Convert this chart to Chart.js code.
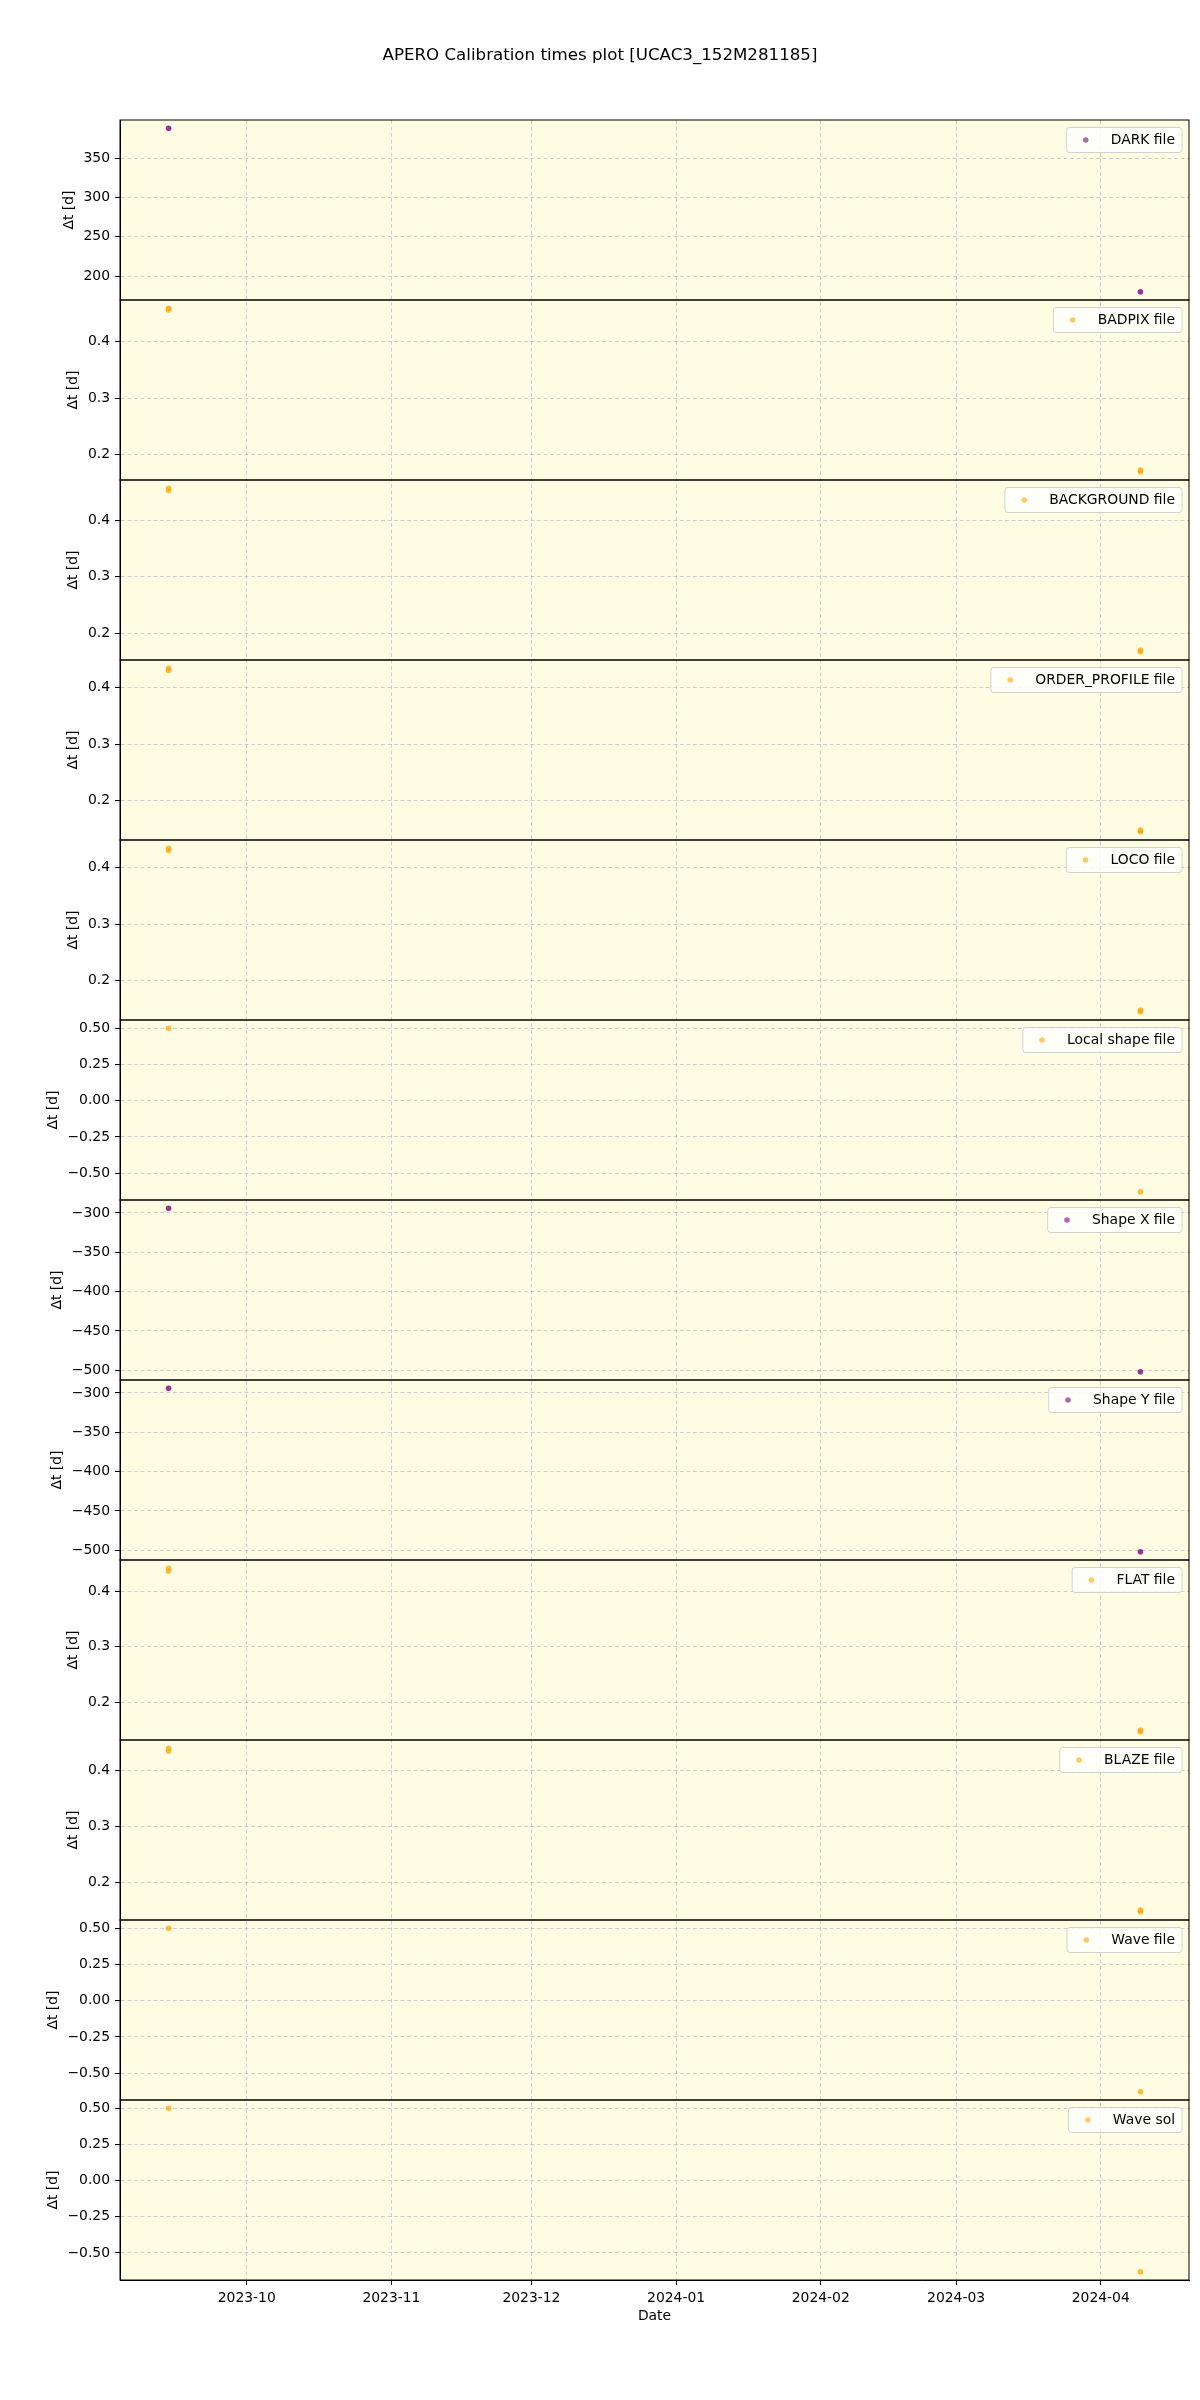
<!DOCTYPE html>
<html>
<head>
<meta charset="utf-8">
<title>APERO Calibration times plot</title>
<script src="https://cdn.jsdelivr.net/npm/chart.js@4.4.1/dist/chart.umd.min.js"></script>
<style>
  html, body { margin: 0; padding: 0; background: #fff; }
  #wrap { width: 1200px; height: 2400px; position: relative; }
</style>
</head>
<body>
<div id="wrap"><canvas id="calibChart"></canvas></div>
<script>
// Panels, top to bottom
const panelLabels = ['DARK file', 'BADPIX file', 'BACKGROUND file', 'ORDER_PROFILE file', 'LOCO file',
  'Local shape file', 'Shape X file', 'Shape Y file', 'FLAT file', 'BLAZE file', 'Wave file', 'Wave sol'];
const chartTitle = 'APERO Calibration times plot [UCAC3_152M281185]';

// observation times (UTC)
const pairTimes = ['2023-09-14T06:00:00Z', '2024-04-09T12:00:00Z'];
const quadTimes = ['2023-09-14T06:00:00Z', '2023-09-14T06:00:00Z', '2024-04-09T12:00:00Z', '2024-04-09T12:00:00Z'];

// Δt values [d]
const darkDt = [388, 180];
const badpixDt = [0.459, 0.456, 0.173, 0.170];
const backgroundDt = [0.457, 0.453, 0.170, 0.167];
const orderProfileDt = [0.435, 0.431, 0.147, 0.144];
const locoDt = [0.435, 0.431, 0.147, 0.144];
const localShapeDt = [0.5, -0.628];
const shapeXDt = [-294, -502];
const shapeYDt = [-294, -502];
const flatDt = [0.441, 0.436, 0.150, 0.147];
const blazeDt = [0.439, 0.434, 0.150, 0.147];
const waveFileDt = [0.5, -0.628];
const waveSolDt = [0.5, -0.630];

const panelTimes = [pairTimes, quadTimes, quadTimes, quadTimes, quadTimes, pairTimes,
  pairTimes, pairTimes, quadTimes, quadTimes, pairTimes, pairTimes];
const panelValues = [darkDt, badpixDt, backgroundDt, orderProfileDt, locoDt, localShapeDt,
  shapeXDt, shapeYDt, flatDt, blazeDt, waveFileDt, waveSolDt];

// tick values
const ticksDark = [200, 250, 300, 350];
const ticksShort = [0.2, 0.3, 0.4];
const ticksHalf = [-0.5, -0.25, 0, 0.25, 0.5];
const ticksShape = [-500, -450, -400, -350, -300];
const panelTicks = [ticksDark, ticksShort, ticksShort, ticksShort, ticksShort, ticksHalf,
  ticksShape, ticksShape, ticksShort, ticksShort, ticksHalf, ticksHalf];
const monthTicks = ['2023-10', '2023-11', '2023-12', '2024-01', '2024-02', '2024-03', '2024-04'];

// styles
const purplePanels = ['DARK file', 'Shape X file', 'Shape Y file'];
const PURPLE = 'rgba(128,0,128,0.8)';
const ORANGE = 'rgba(255,165,0,0.75)';
const PURPLE_LEG = 'rgba(128,0,128,0.6)';
const ORANGE_LEG = 'rgba(255,165,0,0.6)';
const FONT = '"DejaVu Sans", sans-serif';

Chart.defaults.font.family = FONT;
Chart.defaults.font.size = 13.9;
Chart.defaults.color = '#000';

// Utils
const toMs = (s) => Date.parse(s);
const monthMs = (m) => Date.UTC(+m.slice(0, 4), +m.slice(5, 7) - 1, 1);
const padRange = (vals) => {
  const lo = Math.min(...vals), hi = Math.max(...vals), m = (hi - lo) * 0.05;
  return [lo - m, hi + m];
};
const fmtTicks = (ticks) => {
  const dec = Math.max(...ticks.map((t) => (String(t).split('.')[1] || '').length));
  return ticks.map((t) => t.toFixed(dec).replace('-', '\u2212'));
};

const allTimes = panelTimes.flat().map(toMs);
const [xMin, xMax] = padRange(allTimes);

const gridOpts = {
  color: 'rgba(150,150,185,0.45)',
  lineWidth: 1,
  tickLength: 5,
  tickColor: '#000',
  tickWidth: 1,
  tickBorderDash: [],
};
const borderOpts = { color: '#000', width: 1, dash: [4, 2.5] };

const scales = {
  x: {
    type: 'linear',
    min: xMin,
    max: xMax,
    afterBuildTicks: (s) => { s.ticks = monthTicks.map((m) => ({ value: monthMs(m) })); },
    afterFit: (s) => { s.height = 120; },
    ticks: { autoSkip: false, maxRotation: 0, padding: 5, callback: (v, i) => monthTicks[i] },
    grid: gridOpts,
    border: borderOpts,
    title: { display: true, text: 'Date', padding: { top: 0, bottom: 75 } },
  },
};

panelLabels.forEach((name, i) => {
  const [lo, hi] = padRange(panelValues[i]);
  const labels = fmtTicks(panelTicks[i]);
  scales['y' + i] = {
    type: 'linear',
    position: 'left',
    stack: 'panels',
    stackWeight: 1,
    weight: panelLabels.length - i,
    min: lo,
    max: hi,
    afterBuildTicks: (s) => { s.ticks = panelTicks[i].map((v) => ({ value: v })); },
    afterFit: (s) => { s.width = 120; },
    ticks: { autoSkip: false, padding: 5, callback: (v, k) => labels[k] },
    grid: gridOpts,
    border: borderOpts,
  };
});

const datasets = panelLabels.map((name, i) => ({
  label: name,
  xAxisID: 'x',
  yAxisID: 'y' + i,
  data: panelValues[i].map((v, k) => ({ x: toMs(panelTimes[i][k]), y: v })),
  backgroundColor: purplePanels.includes(name) ? PURPLE : ORANGE,
  pointRadius: 2.8,
  pointHoverRadius: 2.8,
  pointBorderWidth: 0,
}));

// Figure title, panel background, frames, legends and y titles
const panelDecor = {
  id: 'panelDecor',
  beforeDraw(chart) {
    const { ctx, chartArea: a } = chart;
    ctx.save();
    ctx.fillStyle = '#FEFDE3';
    ctx.fillRect(a.left, a.top, a.width, a.height);
    ctx.restore();
  },
  afterDraw(chart) {
    const { ctx, chartArea: a } = chart;
    ctx.save();
    ctx.font = '16.67px ' + FONT;
    ctx.fillStyle = '#000';
    ctx.textAlign = 'center';
    ctx.textBaseline = 'middle';
    ctx.fillText(chartTitle, chart.width / 2, 56);

    ctx.font = '13.9px ' + FONT;
    panelLabels.forEach((name, i) => {
      const s = chart.scales['y' + i];

      // frame
      ctx.strokeStyle = '#000';
      ctx.lineWidth = 1;
      ctx.setLineDash([]);
      ctx.strokeRect(a.left, s.top, a.width, s.height);

      // legend
      const tw = ctx.measureText(name).width;
      const w = 44.3 + tw + 7, h = 25;
      const x0 = a.right - 7 - w, y0 = s.top + 7.5;
      ctx.beginPath();
      if (ctx.roundRect) ctx.roundRect(x0, y0, w, h, 3); else ctx.rect(x0, y0, w, h);
      ctx.fillStyle = 'rgba(255,255,255,0.8)';
      ctx.fill();
      ctx.strokeStyle = 'rgba(204,204,204,0.9)';
      ctx.stroke();
      ctx.beginPath();
      ctx.arc(x0 + 19.3, y0 + h / 2, 2.8, 0, 2 * Math.PI);
      ctx.fillStyle = purplePanels.includes(name) ? PURPLE_LEG : ORANGE_LEG;
      ctx.fill();
      ctx.fillStyle = '#000';
      ctx.textAlign = 'left';
      ctx.textBaseline = 'middle';
      ctx.fillText(name, x0 + 44.3, y0 + h / 2 + 0.5);

      // y title
      const maxW = Math.max(...s.ticks.map((t) => ctx.measureText(t.label).width));
      const cx = a.left - 10 - maxW - 14.5;
      ctx.save();
      ctx.translate(cx, s.top + s.height / 2);
      ctx.rotate(-Math.PI / 2);
      ctx.textAlign = 'center';
      ctx.fillText('\u0394t [d]', 0, 0);
      ctx.restore();
    });
    ctx.restore();
  },
};

document.addEventListener('DOMContentLoaded', () => {
  new Chart(document.getElementById('calibChart'), {
    type: 'scatter',
    data: { datasets },
    options: {
      responsive: true,
      maintainAspectRatio: false,
      animation: false,
      events: [],
      layout: { padding: { left: 0, right: 11, top: 120, bottom: 0 } },
      scales,
      plugins: {
        legend: { display: false },
        tooltip: { enabled: false },
        title: { display: false },
      },
    },
    plugins: [panelDecor],
  });
});
</script>
</body>
</html>
